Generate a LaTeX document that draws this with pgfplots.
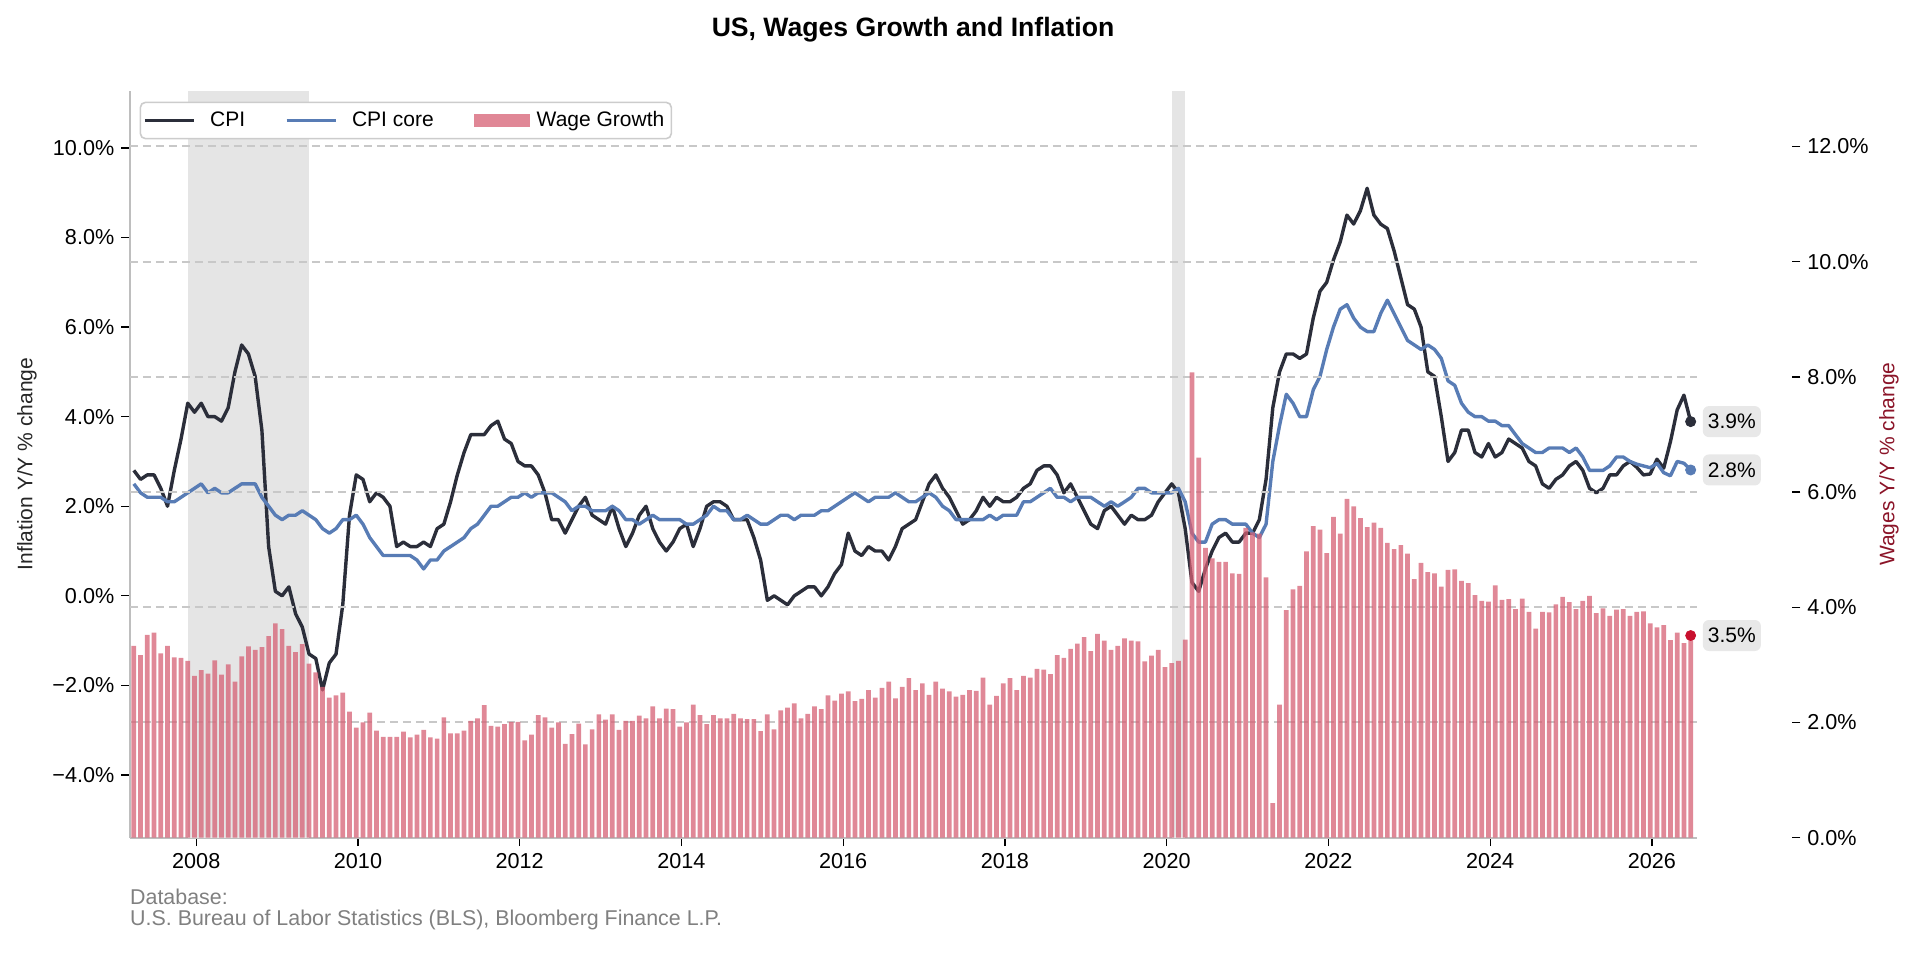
\documentclass[border=0pt]{standalone}
\usepackage{pgfplots}
\pgfplotsset{compat=1.18}
\usepackage{pgfplotstable}
\usepackage{fontspec}
\setmainfont{Liberation Sans}

\definecolor{cpiC}{RGB}{43,46,58}
\definecolor{coreC}{RGB}{88,124,181}
\definecolor{barC}{RGB}{214,96,116}
\definecolor{dotRed}{RGB}{200,16,46}
\definecolor{rlab}{RGB}{139,20,40}
\definecolor{shadeC}{RGB}{229,229,229}
\definecolor{gridC}{RGB}{200,200,200}
\definecolor{spineC}{RGB}{190,190,190}
\definecolor{boxC}{RGB}{232,232,232}
\definecolor{footC}{RGB}{128,128,128}

\pgfplotsset{
  lineleg/.style={legend image code/.code={\draw[##1, sharp corners] (0pt,0pt) -- (24.5pt,0pt); \path (30pt,0pt);}},
  barleg/.style={legend image code/.code={\fill[barC, fill opacity=0.75, sharp corners] (0pt,-3.4pt) rectangle (28.3pt,3.4pt); \path (29.5pt,0pt);}},
}
\tikzset{
  vbox/.style={anchor=west, fill=boxC, rounded corners=3pt, minimum width=29pt,
    minimum height=15.5pt, inner sep=1pt, xshift=5.9pt, font=\fontsize{10.5}{12.6}\selectfont},
}

% monthly, Mar 2007 ... Jun 2026 (row index = month index)
\pgfplotstableread{
cpi core wage
2.8 2.5 3.33
2.6 2.3 3.17
2.7 2.2 3.52
2.7 2.2 3.56
2.4 2.2 3.20
2.0 2.1 3.33
2.8 2.1 3.13
3.5 2.2 3.12
4.3 2.3 3.07
4.1 2.4 2.81
4.3 2.5 2.91
4.0 2.3 2.85
4.0 2.4 3.08
3.9 2.3 2.83
4.2 2.3 3.01
5.0 2.4 2.71
5.6 2.5 3.15
5.4 2.5 3.32
4.9 2.5 3.26
3.7 2.2 3.31
1.1 2.0 3.50
0.1 1.8 3.72
0.0 1.7 3.62
0.2 1.8 3.33
-0.4 1.8 3.22
-0.7 1.9 3.36
-1.3 1.8 3.02
-1.4 1.7 2.87
-2.1 1.5 2.62
-1.5 1.4 2.43
-1.3 1.5 2.47
-0.2 1.7 2.52
1.8 1.7 2.19
2.7 1.8 1.91
2.6 1.6 2.00
2.1 1.3 2.17
2.3 1.1 1.86
2.2 0.9 1.75
2.0 0.9 1.75
1.1 0.9 1.75
1.2 0.9 1.84
1.1 0.9 1.74
1.1 0.8 1.79
1.2 0.6 1.87
1.1 0.8 1.74
1.5 0.8 1.72
1.6 1.0 2.09
2.1 1.1 1.81
2.7 1.2 1.81
3.2 1.3 1.86
3.6 1.5 2.03
3.6 1.6 2.07
3.6 1.8 2.30
3.8 2.0 1.94
3.9 2.0 1.93
3.5 2.1 1.97
3.4 2.2 2.01
3.0 2.2 2.01
2.9 2.3 1.69
2.9 2.2 1.79
2.7 2.3 2.13
2.3 2.3 2.09
1.7 2.3 1.91
1.7 2.2 2.00
1.4 2.1 1.63
1.7 1.9 1.80
2.0 2.0 1.98
2.2 2.0 1.62
1.8 1.9 1.88
1.7 1.9 2.14
1.6 1.9 2.05
2.0 2.0 2.14
1.5 1.9 1.87
1.1 1.7 2.03
1.4 1.7 2.03
1.8 1.6 2.12
2.0 1.7 2.07
1.5 1.8 2.28
1.2 1.7 2.07
1.0 1.7 2.24
1.2 1.7 2.23
1.5 1.7 1.93
1.6 1.6 2.00
1.1 1.6 2.31
1.5 1.7 2.13
2.0 1.8 1.97
2.1 2.0 2.13
2.1 1.9 2.07
2.0 1.9 2.07
1.7 1.7 2.15
1.7 1.7 2.07
1.7 1.8 2.06
1.3 1.7 2.06
0.8 1.6 1.85
-0.1 1.6 2.14
0.0 1.7 1.88
-0.1 1.8 2.21
-0.2 1.8 2.26
0.0 1.7 2.33
0.1 1.8 2.07
0.2 1.8 2.15
0.2 1.8 2.28
0.0 1.9 2.23
0.2 1.9 2.47
0.5 2.0 2.38
0.7 2.1 2.50
1.4 2.2 2.54
1.0 2.3 2.37
0.9 2.2 2.41
1.1 2.1 2.56
1.0 2.2 2.43
1.0 2.2 2.60
0.8 2.2 2.71
1.1 2.3 2.42
1.5 2.2 2.62
1.6 2.1 2.77
1.7 2.1 2.56
2.1 2.2 2.68
2.5 2.3 2.48
2.7 2.2 2.71
2.4 2.0 2.59
2.2 1.9 2.54
1.9 1.7 2.45
1.6 1.7 2.48
1.7 1.7 2.56
1.9 1.7 2.55
2.2 1.7 2.78
2.0 1.8 2.31
2.2 1.7 2.46
2.1 1.8 2.68
2.1 1.8 2.77
2.2 1.8 2.56
2.4 2.1 2.81
2.5 2.1 2.78
2.8 2.2 2.93
2.9 2.3 2.92
2.9 2.4 2.84
2.7 2.2 3.17
2.3 2.2 3.12
2.5 2.1 3.28
2.2 2.2 3.37
1.9 2.2 3.48
1.6 2.2 3.24
1.5 2.1 3.54
1.9 2.0 3.42
2.0 2.1 3.26
1.8 2.0 3.33
1.6 2.1 3.46
1.8 2.2 3.42
1.7 2.4 3.41
1.7 2.4 3.06
1.8 2.3 3.16
2.1 2.3 3.26
2.3 2.3 2.96
2.5 2.3 3.03
2.3 2.4 3.07
1.5 2.1 3.44
0.3 1.4 8.08
0.1 1.2 6.60
0.6 1.2 5.03
1.0 1.6 4.85
1.3 1.7 4.79
1.4 1.7 4.79
1.2 1.6 4.59
1.2 1.6 4.58
1.4 1.6 5.38
1.4 1.4 5.30
1.7 1.3 5.28
2.6 1.6 4.52
4.2 3.0 0.60
5.0 3.8 2.31
5.4 4.5 3.95
5.4 4.3 4.31
5.3 4.0 4.37
5.4 4.0 4.97
6.2 4.6 5.41
6.8 4.9 5.35
7.0 5.5 4.94
7.5 6.0 5.57
7.9 6.4 5.28
8.5 6.5 5.88
8.3 6.2 5.75
8.6 6.0 5.55
9.1 5.9 5.39
8.5 5.9 5.47
8.3 6.3 5.38
8.2 6.6 5.12
7.7 6.3 5.01
7.1 6.0 5.08
6.5 5.7 4.93
6.4 5.6 4.49
6.0 5.5 4.77
5.0 5.6 4.61
4.9 5.5 4.59
4.0 5.3 4.36
3.0 4.8 4.65
3.2 4.7 4.66
3.7 4.3 4.46
3.7 4.1 4.42
3.2 4.0 4.21
3.1 4.0 4.11
3.4 3.9 4.10
3.1 3.9 4.38
3.2 3.8 4.13
3.5 3.8 4.14
3.4 3.6 3.97
3.3 3.4 4.15
3.0 3.3 3.92
2.9 3.2 3.63
2.5 3.2 3.92
2.4 3.3 3.91
2.6 3.3 4.05
2.7 3.3 4.18
2.9 3.2 4.09
3.0 3.3 3.97
2.8 3.1 4.11
2.4 2.8 4.20
2.3 2.8 3.90
2.4 2.8 3.98
2.7 2.9 3.85
2.7 3.1 3.96
2.9 3.1 3.97
3.0 3.0 3.85
2.87 2.94 3.92
2.70 2.90 3.93
2.72 2.86 3.72
3.05 2.96 3.65
2.85 2.75 3.69
3.44 2.68 3.43
4.15 3.00 3.56
4.48 2.96 3.38
3.89 2.81 3.51
}\datatab

\begin{document}
\begin{tikzpicture}[font=\fontsize{10.5}{12.6}\selectfont]
\pgfplotsset{
  common/.style={
    scale only axis, width=783.45pt, height=373.55pt,
    xmin=-0.6, xmax=231.9,
    clip mode=individual,
    tick label style={font=\fontsize{10.8}{13}\selectfont},
  },
}
% ---------- left axis: inflation ----------
\begin{axis}[common,
  ymin=-5.40, ymax=11.28,
  axis x line*=bottom, axis y line*=left,
  axis line style={-, draw=spineC, line width=1pt},
  tick align=outside, major tick length=4.25pt,
  tick style={black, line width=0.65pt},
  xtick={9.26,33.26,57.26,81.26,105.26,129.26,153.26,177.26,201.26,225.26},
  xticklabels={2008,2010,2012,2014,2016,2018,2020,2022,2024,2026},
  ytick={-4,-2,0,2,4,6,8,10},
  yticklabels={−4.0\%,−2.0\%,0.0\%,2.0\%,4.0\%,6.0\%,8.0\%,10.0\%},
]
\addplot[draw=none, fill=shadeC, forget plot] coordinates {(8.05,-5.40) (8.05,11.28) (26.0,11.28) (26.0,-5.40)} -- cycle;
\addplot[draw=none, fill=shadeC, forget plot] coordinates {(154.05,-5.40) (154.05,11.28) (156.0,11.28) (156.0,-5.40)} -- cycle;
\addplot[cpiC, line width=1.7pt, line join=round, mark=*, mark indices={232}, mark size=2.5pt, mark options={solid, fill=cpiC, draw=cpiC, line width=0.5pt}]
  table[x expr=\coordindex, y=cpi]{\datatab};
\addplot[coreC, line width=1.7pt, line join=round, mark=*, mark indices={232}, mark size=2.5pt, mark options={solid, fill=coreC, draw=coreC, line width=0.5pt}]
  table[x expr=\coordindex, y=core]{\datatab};
\node[vbox] at (axis cs:231,3.89) {3.9\%};
\node[vbox] at (axis cs:231,2.81) {2.8\%};
\end{axis}
% ---------- right axis: wages (bars + grid + legend) ----------
\begin{axis}[common,
  ymin=0, ymax=12.97,
  axis x line=none, axis y line*=right,
  y axis line style={draw=none},
  ytick={2,4,6,8,10,12}, yticklabels={}, major tick length=0pt,
  ytick style={draw=none},
  ymajorgrids, major grid style={gridC, line width=1pt, dash pattern=on 4pt off 2.5pt},
  legend columns=3,
  legend cell align=left,
  legend style={at={(0,1)}, anchor=north west, xshift=4.9pt, yshift=-5.5pt,
    draw=black!20, line width=0.8pt, rounded corners=2.5pt, fill=white,
    inner xsep=1.5pt, inner ysep=2.5pt,
    /tikz/every even column/.append style={column sep=18pt},
    font=\fontsize{10.5}{12.6}\selectfont},
]
\addlegendimage{cpiC, line width=1.4pt, lineleg}
\addlegendentry{CPI}
\addlegendimage{coreC, line width=1.4pt, lineleg}
\addlegendentry{CPI core}
\addplot[ybar, bar width=0.7, fill=barC, fill opacity=0.75, draw=none, barleg]
  table[x expr=\coordindex, y=wage]{\datatab};
\addlegendentry{Wage Growth}
\addplot[only marks, mark=*, mark size=2.5pt, color=dotRed, forget plot] coordinates {(231,3.51)};
\node[vbox] at (axis cs:231,3.51) {3.5\%};
\end{axis}
% ---------- offset right tick axis ----------
\begin{axis}[common, at={(47.55pt,0pt)},
  ymin=0, ymax=12.97,
  axis x line=none, axis y line*=right,
  y axis line style={draw=none},
  tick align=outside, major tick length=4.25pt,
  tick style={black, line width=0.65pt},
  ytick={0,2,4,6,8,10,12},
  yticklabels={0.0\%,2.0\%,4.0\%,6.0\%,8.0\%,10.0\%,12.0\%},
]
\addplot[draw=none, forget plot] coordinates {(0,0)};
\end{axis}
% ---------- texts ----------
\node[font=\bfseries\fontsize{13.3}{15.5}\selectfont] at (391.6pt,404.1pt) {US, Wages Growth and Inflation};
\node[rotate=90, text=black!85] at (-51.4pt,186.8pt) {Inflation Y/Y \% change};
\node[rotate=90, text=rlab] at (879.6pt,186.8pt) {Wages Y/Y \% change};
\node[anchor=west, text=footC, inner sep=0pt, font=\fontsize{10.7}{12.8}\selectfont] at (0pt,-29.65pt) {Database:};
\node[anchor=west, text=footC, inner sep=0pt, font=\fontsize{10.7}{12.8}\selectfont] at (0pt,-40.95pt) {U.S. Bureau of Labor Statistics (BLS), Bloomberg Finance L.P.};
\pgfresetboundingbox
\useasboundingbox (-64.9pt,-57.65pt) rectangle (895.1pt,418.85pt);
\end{tikzpicture}
\end{document}
